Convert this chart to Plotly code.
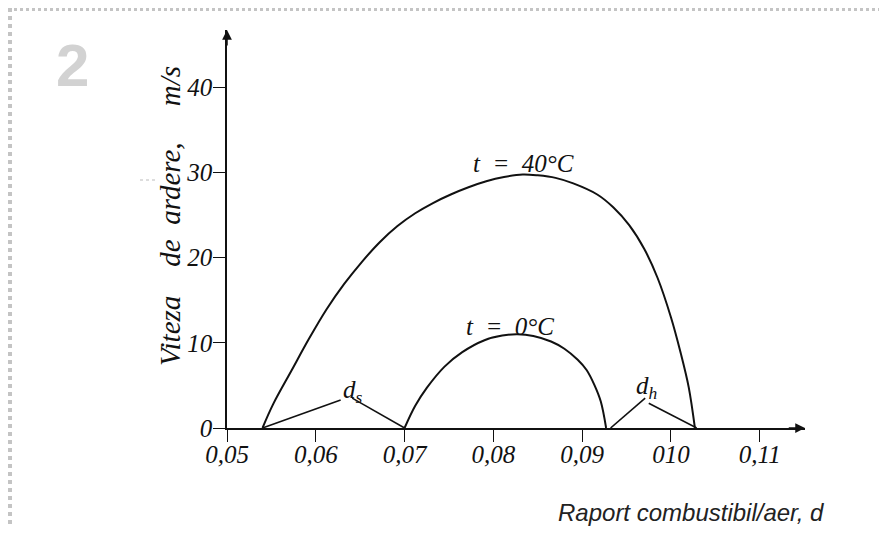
import plotly.graph_objects as go

# viteza de ardere, t = 40 C
t40_x = [0.0540, 0.0552, 0.0573, 0.0592, 0.0612, 0.0632, 0.0652, 0.0672, 0.0692, 0.0712,
         0.0732, 0.0752, 0.0772, 0.0792, 0.0812, 0.0833, 0.0850, 0.0870, 0.0890, 0.0917,
         0.0935, 0.0953, 0.0970, 0.0985, 0.1000, 0.1011, 0.1020, 0.1027]
t40_y = [0.0, 2.8, 6.8, 10.4, 13.9, 16.9, 19.5, 21.8, 23.7, 25.2,
         26.4, 27.4, 28.25, 28.95, 29.45, 29.75, 29.65, 29.35, 28.7, 27.4,
         25.9, 23.8, 21.0, 17.6, 13.0, 8.8, 4.8, 0.0]

# viteza de ardere, t = 0 C
t0_x = [0.0700, 0.0712, 0.0725, 0.0745, 0.0765, 0.0790, 0.0810, 0.0827, 0.0845,
        0.0865, 0.0880, 0.0895, 0.0905, 0.0914, 0.0921, 0.0927]
t0_y = [0.0, 2.6, 4.7, 7.2, 8.9, 10.3, 10.85, 11.0, 10.8,
        10.15, 9.3, 8.0, 6.8, 5.0, 3.1, 0.0]

# linii de indicare d_s si d_h
ds_left_x, ds_left_y = [0.0540, 0.0628], [0.0, 3.3]
ds_right_x, ds_right_y = [0.0641, 0.0700], [3.5, 0.0]
dh_left_x, dh_left_y = [0.0932, 0.0971], [0.0, 3.5]
dh_right_x, dh_right_y = [0.0975, 0.1029], [2.9, 0.0]

x_ticks = [0.05, 0.06, 0.07, 0.08, 0.09, 0.10, 0.11]
x_labels = ["0,05", "0,06", "0,07", "0,08", "0,09", "010", "0,11"]
y_ticks = [0, 10, 20, 30, 40]
y_labels = ["0", "10", "20", "30", "40"]

X_MAX, Y_MAX = 0.1151, 46.7
OFF = 8  # marginea implicita a paginii html
W, H = 887 - 2 * OFF, 534 - 2 * OFF
L, T, B = 227 - OFF, 30 - OFF, 98
PW = 578
R = W - L - PW
PH = H - T - B

serif = dict(family="Liberation Serif", color="#111", style="italic")


def px_x(p):
    return (p - OFF - L) / PW


def px_y(p):
    return (H - B - (p - OFF)) / PH


fig = go.Figure()
line = dict(color="#111", width=2)
fig.add_trace(go.Scatter(x=t40_x, y=t40_y, mode="lines", line=dict(line, shape="spline", smoothing=1.0)))
fig.add_trace(go.Scatter(x=t0_x, y=t0_y, mode="lines", line=dict(line, shape="spline", smoothing=1.0)))
thin = dict(color="#111", width=1.6)
for xs, ys in [(ds_left_x, ds_left_y), (ds_right_x, ds_right_y),
               (dh_left_x, dh_left_y), (dh_right_x, dh_right_y)]:
    fig.add_trace(go.Scatter(x=xs, y=ys, mode="lines", line=thin))

axis_common = dict(showline=True, linecolor="#111", linewidth=1.5, showgrid=False,
                   zeroline=False, ticks="outside", ticklen=12, tickwidth=1.3,
                   tickcolor="#111", tickfont=dict(serif, size=25))
fig.update_xaxes(range=[0.05, X_MAX], tickvals=x_ticks, ticktext=x_labels,
                 ticklabelstandoff=-9, **axis_common)
fig.update_yaxes(range=[0, Y_MAX], tickvals=y_ticks, ticktext=y_labels,
                 ticklabelstandoff=-4, **axis_common)

nb = "\u00a0"
ann = [
    # sageti la capatul axelor
    dict(x=X_MAX, y=0, ax=X_MAX - 0.002, ay=0, axref="x", ayref="y",
         showarrow=True, arrowhead=2, arrowsize=1.3, arrowwidth=1.5, arrowcolor="#111", text=""),
    dict(x=0.05, y=Y_MAX, ax=0.05, ay=Y_MAX - 2, axref="x", ayref="y",
         showarrow=True, arrowhead=2, arrowsize=1.3, arrowwidth=1.5, arrowcolor="#111", text=""),
    dict(x=0.0834, y=31.0, text="t  =  40°C", font=dict(serif, size=25)),
    dict(x=0.0819, y=11.9, text="t  =  0°C", font=dict(serif, size=25)),
    dict(x=0.0642, y=4.3, text="d<sub>s</sub>", font=dict(serif, size=25)),
    dict(x=0.0973, y=4.8, text="d<sub>h</sub>", font=dict(serif, size=25)),
    dict(x=px_x(170), y=px_y(216), xref="paper", yref="paper", textangle=-90,
         text="Viteza" + nb * 3 + " de" + nb + " ardere," + nb * 4 + " m/s",
         font=dict(serif, size=29)),
    dict(x=px_x(691), y=px_y(512), xref="paper", yref="paper",
         text="Raport combustibil/aer, d",
         font=dict(family="Liberation Sans", size=24, color="#222", style="italic")),
    dict(x=px_x(72), y=px_y(66), xref="paper", yref="paper", text="2",
         font=dict(family="Liberation Sans", size=60, color="#d2d2d2", weight="bold")),
]
for a in ann:
    a.setdefault("showarrow", False)
    a.setdefault("xref", "x")
    a.setdefault("yref", "y")
    a.setdefault("xanchor", "center")
    a.setdefault("yanchor", "middle")
fig.update_layout(annotations=ann)

# marginea gri a paginii scanate
fig.add_shape(type="line", xref="paper", yref="paper", x0=px_x(OFF), x1=px_x(887), y0=px_y(OFF + 1.5), y1=px_y(OFF + 1.5),
              line=dict(color="#c4c4c4", width=3, dash="dot"))
fig.add_shape(type="line", xref="paper", yref="paper", x0=px_x(OFF + 2), x1=px_x(OFF + 2), y0=px_y(OFF), y1=px_y(534),
              line=dict(color="#c4c4c4", width=4, dash="dot"))
fig.add_shape(type="line", xref="paper", yref="paper", x0=px_x(140), x1=px_x(155), y0=px_y(180), y1=px_y(180),
              line=dict(color="#bbbbbb", width=1, dash="dot"))

fig.update_layout(
    width=W, height=H, autosize=False, showlegend=False,
    margin=dict(l=L, r=R, t=T, b=B),
    paper_bgcolor="white", plot_bgcolor="white",
)

fig.write_html("out.html")
